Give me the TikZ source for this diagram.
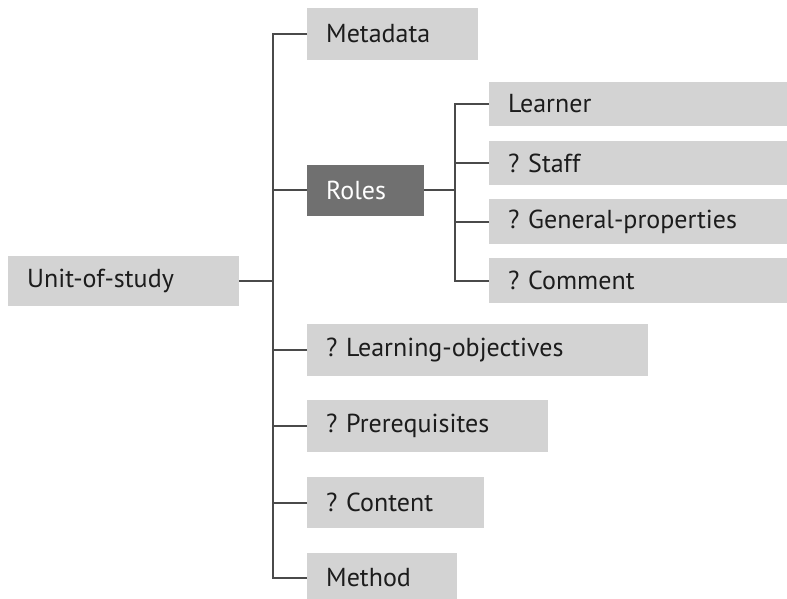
\documentclass[tikz,border=0pt]{standalone}
\usepackage{fontspec}
\setmainfont{PT Sans}
\frenchspacing
\begin{document}
\begin{tikzpicture}[x=1pt,y=-1pt,
  item/.style={rectangle, fill=boxgray, anchor=west, inner xsep=19pt, inner ysep=0pt,
    align=left, font=\fontsize{26}{30}\selectfont, text=textdark},
  itemdark/.style={item, fill=rolegray, text=white},
  link/.style={draw=linegray, line width=2pt}]
\definecolor{boxgray}{HTML}{D3D3D3}
\definecolor{rolegray}{HTML}{707070}
\definecolor{linegray}{HTML}{4A4A4A}
\definecolor{textdark}{HTML}{1C1C1C}
\useasboundingbox (0,0) rectangle (787,599);
\clip (0,0) rectangle (787,599);

% root
\node[item, text width=193pt, minimum height=50pt] (uos) at (8,281) {Unit-of-study};

% first level
\node[item, text width=133pt, minimum height=52pt] (meta) at (307,34) {Metadata};
\node[itemdark, text width=79pt, minimum height=51pt] (roles) at (307,190) {Roles};
\node[item, text width=303pt, minimum height=52pt] (lobj) at (307,350) {? Learning-objectives};
\node[item, text width=203pt, minimum height=52pt] (prereq) at (307,426) {? Prerequisites};
\node[item, text width=139pt, minimum height=51pt] (content) at (307,502.5) {? Content};
\node[item, text width=112pt, minimum height=51pt] (method) at (307,578) {Method};

% second level under Roles
\node[item, text width=280pt, minimum height=44pt] (learner) at (489,104) {Learner};
\node[item, text width=280pt, minimum height=44pt] (staff) at (489,163) {? Staff};
\node[item, text width=280pt, minimum height=45pt] (general) at (489,221.5) {? General-properties};
\node[item, text width=280pt, minimum height=45pt] (comment) at (489,280.5) {? Comment};

% trunk of the tree
\coordinate (trunk) at (273,0);
\draw[link] (meta.west) -- (meta.west -| trunk) |- (method.west);
\draw[link] (uos.east) -- (uos.east -| trunk);
\foreach \n in {roles,lobj,prereq,content}
  \draw[link] (\n.west) -- (\n.west -| trunk);

% branch of Roles
\coordinate (branch) at (455,0);
\draw[link] (roles.east) -- (roles.east -| branch);
\draw[link] (learner.west) -- (learner.west -| branch) |- (comment.west);
\foreach \n in {staff,general}
  \draw[link] (\n.west) -- (\n.west -| branch);
\end{tikzpicture}
\end{document}
